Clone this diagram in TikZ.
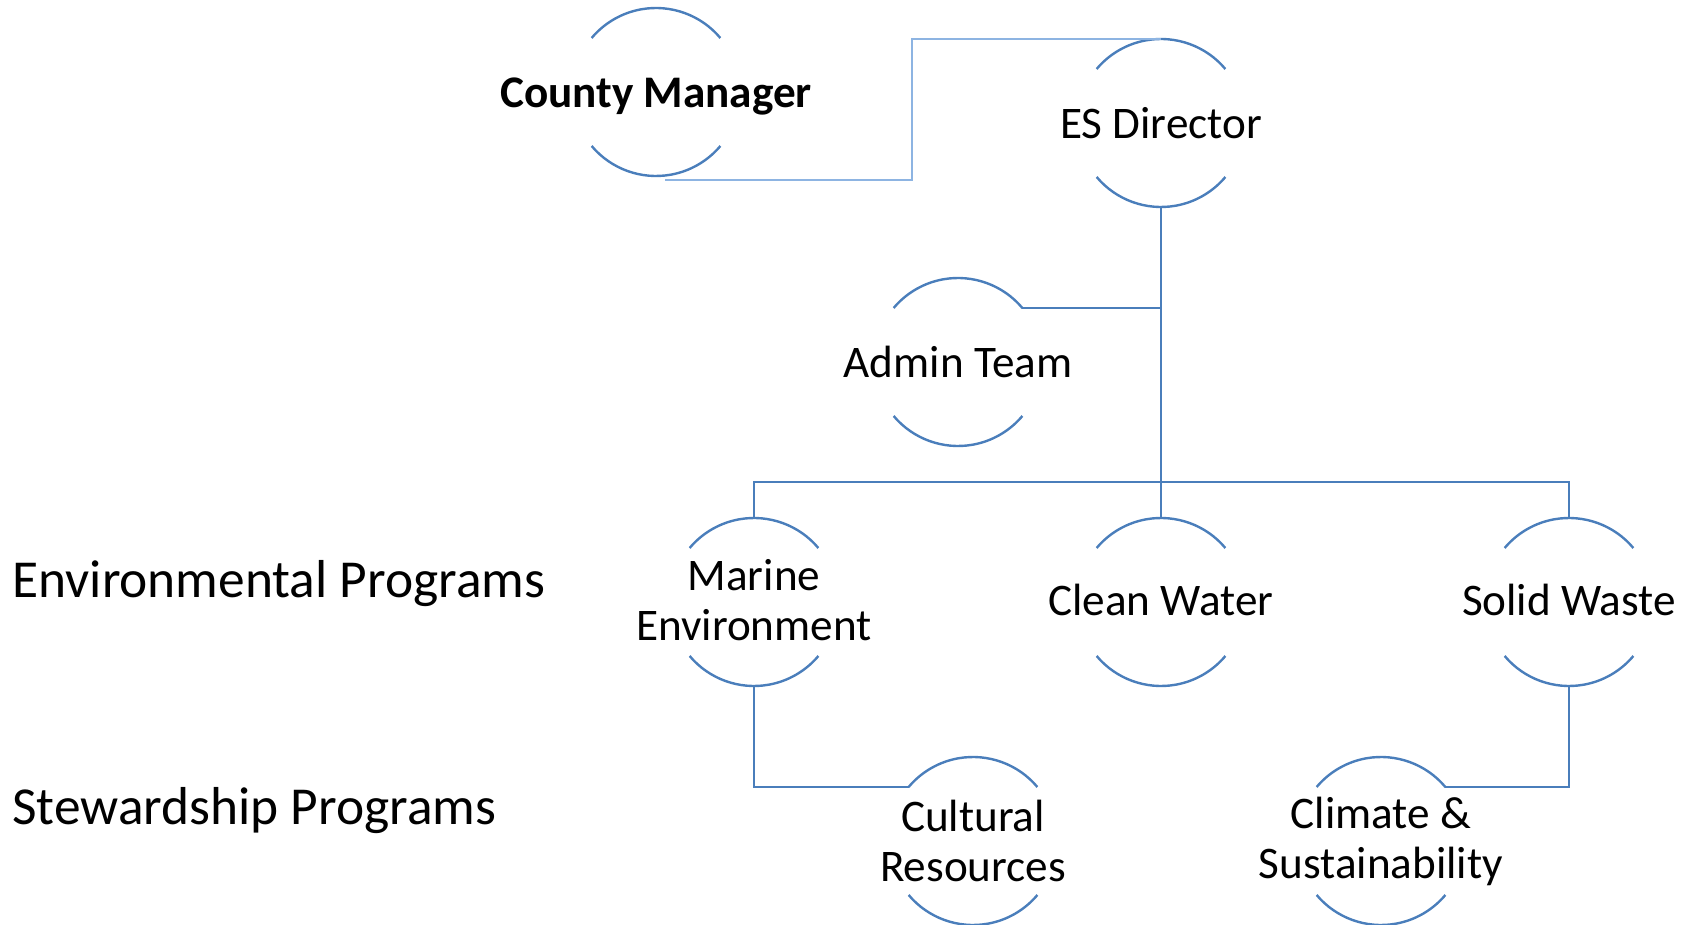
\documentclass[tikz,border=0pt]{standalone}
\usepackage{fontspec}
\setmainfont{Carlito}
\definecolor{arcblue}{HTML}{4A7EBB}
\definecolor{lightblue}{HTML}{8DB4E2}
\tikzset{
  unit/.style={circle, minimum size=84pt, inner sep=0pt, outer sep=0pt, draw=none},
  arcline/.style={draw=arcblue, line width=1.2pt},
  conn/.style={draw=arcblue, line width=1.4pt},
  lightconn/.style={draw=lightblue, line width=0.9pt},
  utext/.style={font=\fontsize{22.6pt}{25pt}\selectfont, align=center, inner sep=0pt},
  sidelabel/.style={font=\fontsize{26.7pt}{30pt}\selectfont, anchor=west, inner sep=0pt}
}
\newcommand\twoarcs[1]{\draw[arcline] (#1.40) arc[start angle=40,end angle=140,radius=42pt] (#1.220) arc[start angle=220,end angle=320,radius=42pt];}
\begin{document}
\begin{tikzpicture}[x=0.5pt,y=-0.5pt]
\useasboundingbox (0,0) rectangle (1694,925);
% units
\node[unit, label={[utext,font=\fontsize{22.6pt}{25pt}\selectfont\bfseries,yshift=-2.2pt]center:County Manager}] (cm) at (656,92) {};
\node[unit, label={[utext]center:ES Director}] (es) at (1161,123) {};
\node[unit, label={[utext]center:Admin Team}] (at) at (958,362) {};
\node[unit, label={[utext,yshift=0.8pt]center:Marine\\Environment}] (me) at (754,602) {};
\node[unit, label={[utext,yshift=0.8pt]center:Clean Water}] (cw) at (1161,602) {};
\node[unit, label={[utext,yshift=0.8pt]center:Solid Waste}] (sw) at (1569,602) {};
\node[unit, label={[utext]center:Cultural\\Resources}] (cr) at (973,841) {};
\node[unit, label={[utext]center:Climate \&\\Sustainability}] (cs) at (1381,841) {};
\foreach \n in {cm,es,at,me,cw,sw,cr,cs} {\twoarcs{\n}}
% side labels
\node[sidelabel] (envlab) at (12,584) {Environmental Programs};
\node[sidelabel] (stewlab) at (12,811) {Stewardship Programs};
% connectors
\coordinate (bend) at (912,0);
\coordinate (bus) at (1161,482);
\draw[lightconn] ([shift={(4.5pt,-2pt)}]cm.south) -| (bend |- es.north) -- (es.north);
\draw[conn] (es.south) -- (bus);
\draw[conn] (at.40) -- (at.40 -| es.south);
\draw[conn] (me.north) -- (me.north |- bus) -- (sw.north |- bus) -- (sw.north);
\draw[conn] (bus) -- (cw.north);
\draw[conn] (me.south) |- (cr.140);
\draw[conn] (sw.south) |- (cs.40);
\end{tikzpicture}
\end{document}
